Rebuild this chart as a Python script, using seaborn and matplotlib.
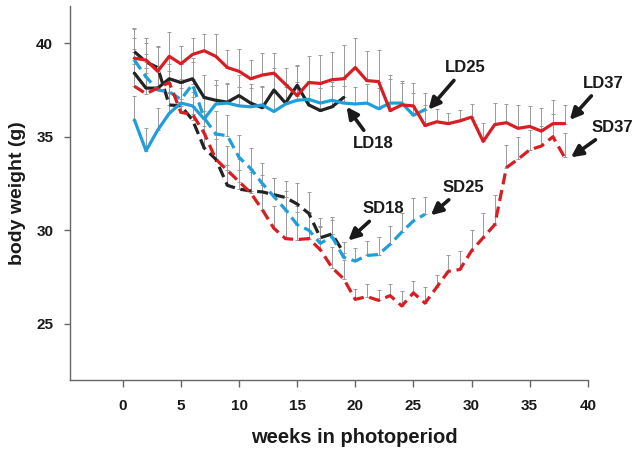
import numpy as np
import pandas as pd
import seaborn as sns
import matplotlib.pyplot as plt

# weeks in photoperiod for each group
weeks_18 = list(range(1, 20))
weeks_25 = list(range(1, 27))
weeks_37 = list(range(1, 39))

# mean body weight (g)
ld18 = [38.4, 37.6, 37.6, 38.1, 37.9, 38.1, 37.1, 36.95, 36.85, 37.2, 36.8, 36.55,
        37.5, 36.8, 37.75, 36.7, 36.4, 36.6, 37.1]
sd18 = [39.55, 39.0, 38.7, 36.7, 36.65, 35.9, 34.4, 33.8, 32.4, 32.2, 32.1, 32.05,
        31.9, 31.75, 31.4, 30.9, 29.6, 29.8, 28.8]
ld25 = [35.9, 34.25, 35.35, 36.25, 36.8, 36.65, 35.95, 36.75, 36.8, 36.65, 36.6, 36.7,
        36.35, 36.75, 36.95, 37.0, 36.8, 36.95, 36.8, 36.75, 36.8, 36.5, 36.8, 36.8,
        36.15, 36.45]
sd25 = [39.1, 38.2, 37.5, 37.4, 37.0, 37.8, 36.0, 35.15, 35.05, 33.9, 33.3, 32.5,
        31.8, 31.1, 30.3, 30.0, 29.3, 29.65, 28.55, 28.35, 28.65, 28.7, 29.25, 29.9,
        30.5, 30.85]
ld37 = [39.2, 39.1, 38.5, 39.3, 38.9, 39.4, 39.6, 39.3, 38.7, 38.5, 38.1, 38.3, 38.4,
        37.8, 37.2, 37.9, 37.85, 38.05, 38.1, 38.7, 38.0, 37.95, 36.4, 36.7, 36.65,
        35.6, 35.8, 35.7, 35.85, 36.05, 34.75, 35.65, 35.75, 35.45, 35.55, 35.3, 35.7,
        35.7]
sd37 = [37.7, 37.3, 37.6, 37.9, 36.3, 36.2, 35.2, 33.8, 33.2, 32.6, 32.0, 31.1, 30.1,
        29.55, 29.5, 29.55, 28.95, 28.0, 27.4, 26.3, 26.45, 26.25, 26.5, 25.95, 26.65,
        26.1, 26.95, 27.8, 27.9, 28.9, 29.6, 30.3, 33.35, 33.8, 34.3, 34.5, 35.0, 33.9]

# upper error (SEM), estimated from the bars
ld18_se = [1.3, 1.1, 1.0, 1.1, 1.0, 1.1, 1.2, 1.1, 1.0, 1.1, 1.0, 1.1, 1.2, 1.0, 1.1,
           1.2, 1.2, 1.1, 1.0]
sd18_se = [1.2, 1.0, 1.1, 1.2, 1.2, 1.2, 1.2, 1.1, 1.1, 1.0, 1.0, 0.9, 0.9, 0.9, 1.1,
           1.15, 1.05, 0.9, 0.55]
ld25_se = [1.3, 1.2, 1.2, 1.1, 1.1, 1.0, 1.1, 1.0, 1.0, 1.0, 1.0, 1.0, 1.0, 0.9, 1.0,
           1.0, 1.0, 1.0, 0.9, 0.9, 1.0, 1.1, 1.3, 1.1, 1.2, 0.9]
sd25_se = [1.2, 1.2, 1.1, 1.1, 1.1, 1.2, 1.2, 1.2, 1.1, 1.2, 1.1, 1.1, 1.0, 1.0, 1.0,
           0.9, 0.9, 0.9, 0.8, 0.7, 0.8, 0.95, 1.0, 1.0, 1.2, 0.9]
ld37_se = [1.6, 1.2, 1.35, 1.3, 0.95, 0.9, 0.9, 1.2, 0.95, 1.2, 1.0, 1.2, 1.1, 0.9, 1.6,
           1.4, 1.5, 1.5, 1.8, 1.6, 1.6, 1.7, 1.9, 1.3, 1.2, 1.1, 0.7, 0.55, 0.6, 0.7,
           1.0, 1.15, 1.0, 1.25, 1.1, 1.25, 1.25, 1.0]
sd37_se = [1.2, 1.1, 1.2, 1.0, 1.3, 1.2, 1.2, 1.3, 1.3, 1.2, 1.2, 1.3, 1.2, 1.5, 1.5,
           1.4, 1.2, 1.1, 1.0, 0.55, 0.65, 0.55, 0.65, 0.8, 0.65, 0.85, 0.65, 0.9, 1.0,
           1.1, 1.3, 1.6, 1.2, 1.2, 1.05, 1.1, 1.2, 1.3]

x_ticks = [0, 5, 10, 15, 20, 25, 30, 35, 40]
y_ticks = [25, 30, 35, 40]

# build long-form table
rows = [
    ("LD18", "18", "LD", weeks_18, ld18, ld18_se),
    ("SD18", "18", "SD", weeks_18, sd18, sd18_se),
    ("LD25", "25", "LD", weeks_25, ld25, ld25_se),
    ("SD25", "25", "SD", weeks_25, sd25, sd25_se),
    ("LD37", "37", "LD", weeks_37, ld37, ld37_se),
    ("SD37", "37", "SD", weeks_37, sd37, sd37_se),
]
frames = []
for name, grp, photo, wk, mean, se in rows:
    frames.append(pd.DataFrame({"series": name, "group": grp, "photo": photo,
                                "week": wk, "weight": mean, "se": se}))
df = pd.concat(frames, ignore_index=True)

sns.set_style("ticks")
plt.rcParams["font.family"] = ["Liberation Sans", "DejaVu Sans"]

fig, ax = plt.subplots(figsize=(6.41, 4.5), dpi=100)
fig.subplots_adjust(left=0.109, right=0.917, bottom=0.156, top=0.987)

# upward-only error bars behind the lines
for name, d in df.groupby("series"):
    ax.errorbar(d["week"], d["weight"], yerr=[np.zeros(len(d)), d["se"]], fmt="none",
                ecolor="#9a9a9a", elinewidth=0.7, capsize=1.5, capthick=0.7, zorder=1)

palette = {"18": "#232323", "25": "#1e9fdc", "37": "#d81e22"}
sns.lineplot(data=df, x="week", y="weight", hue="group", style="photo",
             units="series", estimator=None, palette=palette,
             dashes={"LD": "", "SD": (3.5, 1.8)}, linewidth=2.3,
             legend=False, ax=ax, zorder=3)

# arrow labels
arrow = dict(arrowstyle="-|>", color="#1a1a1a", lw=2.6, mutation_scale=17,
             shrinkA=2, shrinkB=0)
labels = [
    ("LD25", (26.3, 36.45), (29.45, 38.7)),
    ("LD18", (19.25, 36.6), (21.55, 34.65)),
    ("LD37", (38.45, 35.9), (41.3, 37.87)),
    ("SD37", (38.55, 33.9), (42.15, 35.5)),
    ("SD25", (26.5, 30.8), (29.3, 32.3)),
    ("SD18", (19.4, 29.45), (22.4, 31.15)),
]
for txt, tip, pos in labels:
    ax.annotate(txt, xy=tip, xytext=pos, ha="center", va="center", fontsize=12,
                fontweight="bold", color="#1a1a1a", arrowprops=arrow,
                annotation_clip=False)

ax.set_xlim(-4.55, 40)
ax.set_ylim(22, 42)
ax.set_xticks(x_ticks)
ax.set_yticks(y_ticks)
sns.despine(ax=ax)
for s in ["left", "bottom"]:
    ax.spines[s].set_color("#666666")
    ax.spines[s].set_linewidth(1.0)
ax.tick_params(axis="x", length=5, width=1, color="#666666", pad=9, labelsize=11)
ax.tick_params(axis="y", length=4, width=1, color="#666666", pad=8, labelsize=11)
for lab in ax.get_xticklabels() + ax.get_yticklabels():
    lab.set_fontweight("bold")
    lab.set_color("#1a1a1a")

ax.set_xlabel("weeks in photoperiod", fontsize=14.5, fontweight="bold", color="#1a1a1a")
ax.xaxis.set_label_coords(0.55, -0.13)
ax.set_ylabel("body weight (g)", fontsize=14, fontweight="bold", color="#1a1a1a",
              labelpad=7)

plt.savefig("out.png", dpi=100)
plt.close()
